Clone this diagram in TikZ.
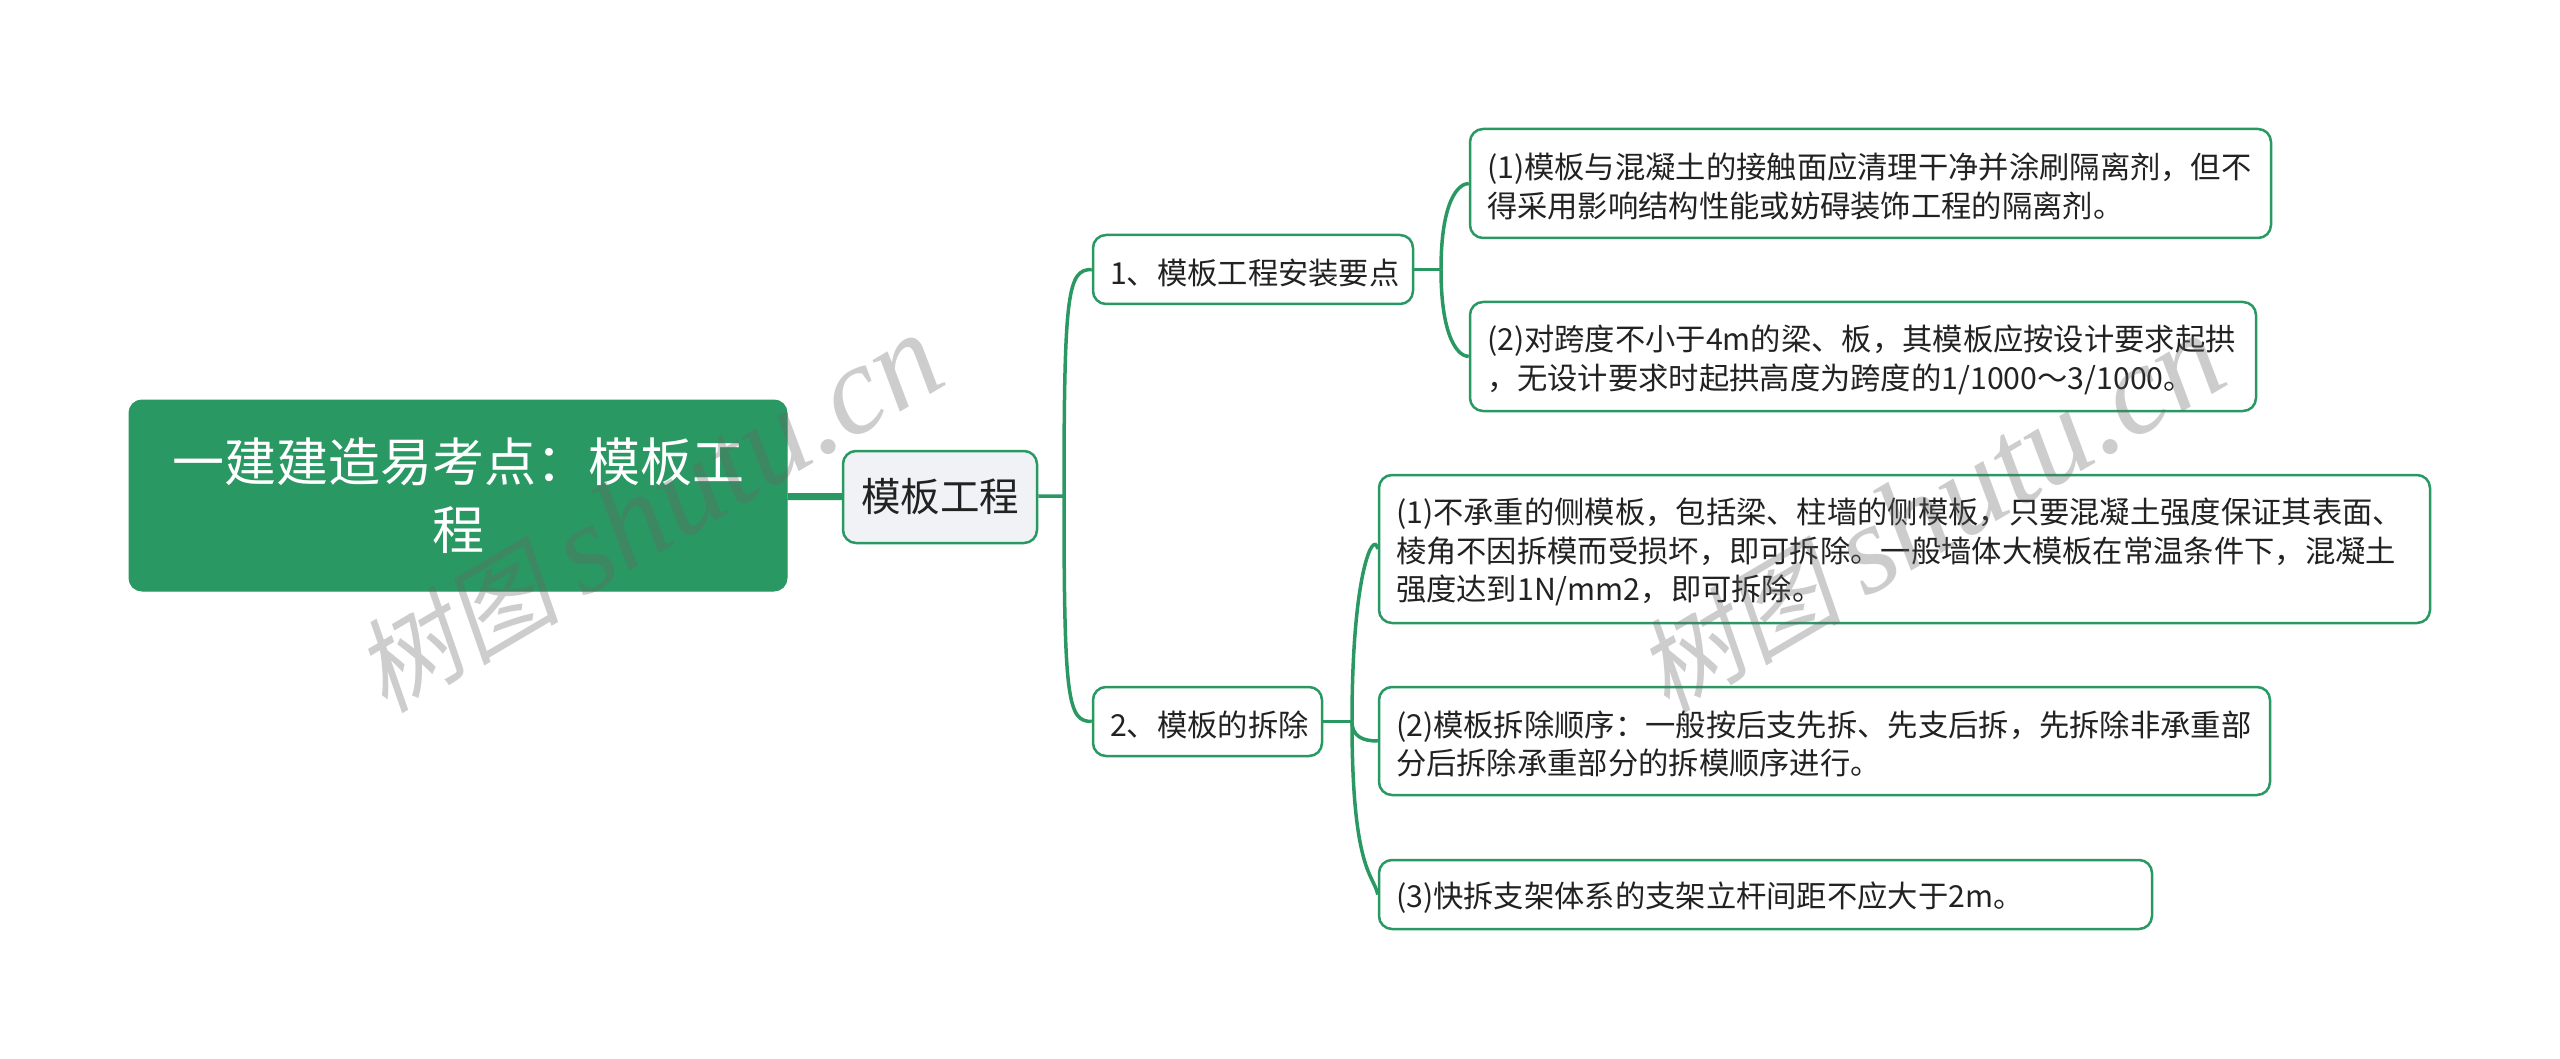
\documentclass[tikz,border=0pt]{standalone}
\usepackage{fontspec}
\setmainfont{Noto Sans CJK SC}
\newfontfamily\marquecjk[FakeSlant=0.2]{Noto Sans CJK SC}
\newfontfamily\marquelat{Liberation Serif}
\definecolor{vert}{HTML}{2A9863}
\definecolor{clair}{HTML}{F0F2F5}
\definecolor{encre}{HTML}{222222}

\begin{document}
\begin{tikzpicture}[x=1pt,y=-1pt]
\tikzstyle{lien}=[draw=vert,line width=3.5pt]
\tikzset{bloc/.style={draw=vert,line width=2.5pt,rounded corners=13pt,fill=#1,text=encre,align=left,inner xsep=17pt,inner ysep=0pt,font=\fontsize{30.3}{38.5}\selectfont,execute at begin node={\rule{0pt}{32pt}}},
bloc/.default={white},
marque/.style={text=black!60,opacity=0.33,rotate=30.5,inner sep=0pt}}
\useasboundingbox (0,0) rectangle (2560,1059);

\node[bloc=vert,text=white,align=center,line width=1pt,text width=624pt,minimum height=191pt,font=\fontsize{52}{68}\selectfont] (R) at (458,495.5){一建建造易考点：模板工\\程};
\node[bloc=clair,align=center,inner xsep=0pt,text width=194pt,minimum height=92pt,font=\fontsize{39.5}{48}\selectfont] (T) at (940,497){模板工程};

\node[bloc,text width=286pt,minimum height=69pt] (A) at (1253,269.5){1、模板工程安装要点};
\node[bloc,text width=767pt,minimum height=109pt] (A1) at (1870.5,183.5){(1)模板与混凝土的接触面应清理干净并涂刷隔离剂，但不\\得采用影响结构性能或妨碍装饰工程的隔离剂。};
\node[bloc,text width=752pt,minimum height=109pt] (A2) at (1863,356.5){(2)对跨度不小于4m的梁、板，其模板应按设计要求起拱\\，无设计要求时起拱高度为跨度的1/1000～3/1000。};

\node[bloc,text width=195pt,minimum height=69pt] (B) at (1207.5,721.5){2、模板的拆除};
\node[bloc,text width=1017pt,minimum height=148pt] (B1) at (1904.5,549){(1)不承重的侧模板，包括梁、柱墙的侧模板，只要混凝土强度保证其表面、\\棱角不因拆模而受损坏，即可拆除。一般墙体大模板在常温条件下，混凝土\\强度达到1N/mm2，即可拆除。};
\node[bloc,text width=857pt,minimum height=108pt] (B2) at (1824.5,741){(2)模板拆除顺序：一般按后支先拆、先支后拆，先拆除非承重部\\分后拆除承重部分的拆模顺序进行。};
\node[bloc,text width=739pt,minimum height=69pt] (B3) at (1765.5,894.5){(3)快拆支架体系的支架立杆间距不应大于2m。};

\coordinate (t) at (1064,496);
\coordinate (a) at (1441,269.5);
\coordinate (b) at (1352,721.5);

\draw[lien,line width=7pt] (R) -- (T);
\draw[lien] (T) -- (t);
\draw[lien] (t) .. controls +(0,-205) and +(-24,0) .. (A.west);
\draw[lien] (t) .. controls +(0,205) and +(-24,0) .. (B.west);

\draw[lien] (A) -- (a);
\draw[lien] (a) .. controls +(0,-70) and +(-10,0) .. (A1.west);
\draw[lien] (a) .. controls +(0,70) and +(-10,0) .. (A2.west);

\draw[lien] (B) -- (b);
\draw[lien] (b) .. controls +(0,-150) and +(-4,-20) .. (B1.west);
\draw[lien] (b) .. controls +(0,15) and +(-15,0) .. (B2.west);
\draw[lien] (b) .. controls +(0,150) and +(-4,-20) .. (B3.west);

% filigrane
\node[marque] (W1) at (648,514){\fontsize{103}{103}\marquecjk 树图 \fontsize{127}{127}\marquelat\itshape shutu.cn};
\node[marque] (W2) at (1930,514){\fontsize{103}{103}\marquecjk 树图 \fontsize{127}{127}\marquelat\itshape shutu.cn};
\end{tikzpicture}
\end{document}
